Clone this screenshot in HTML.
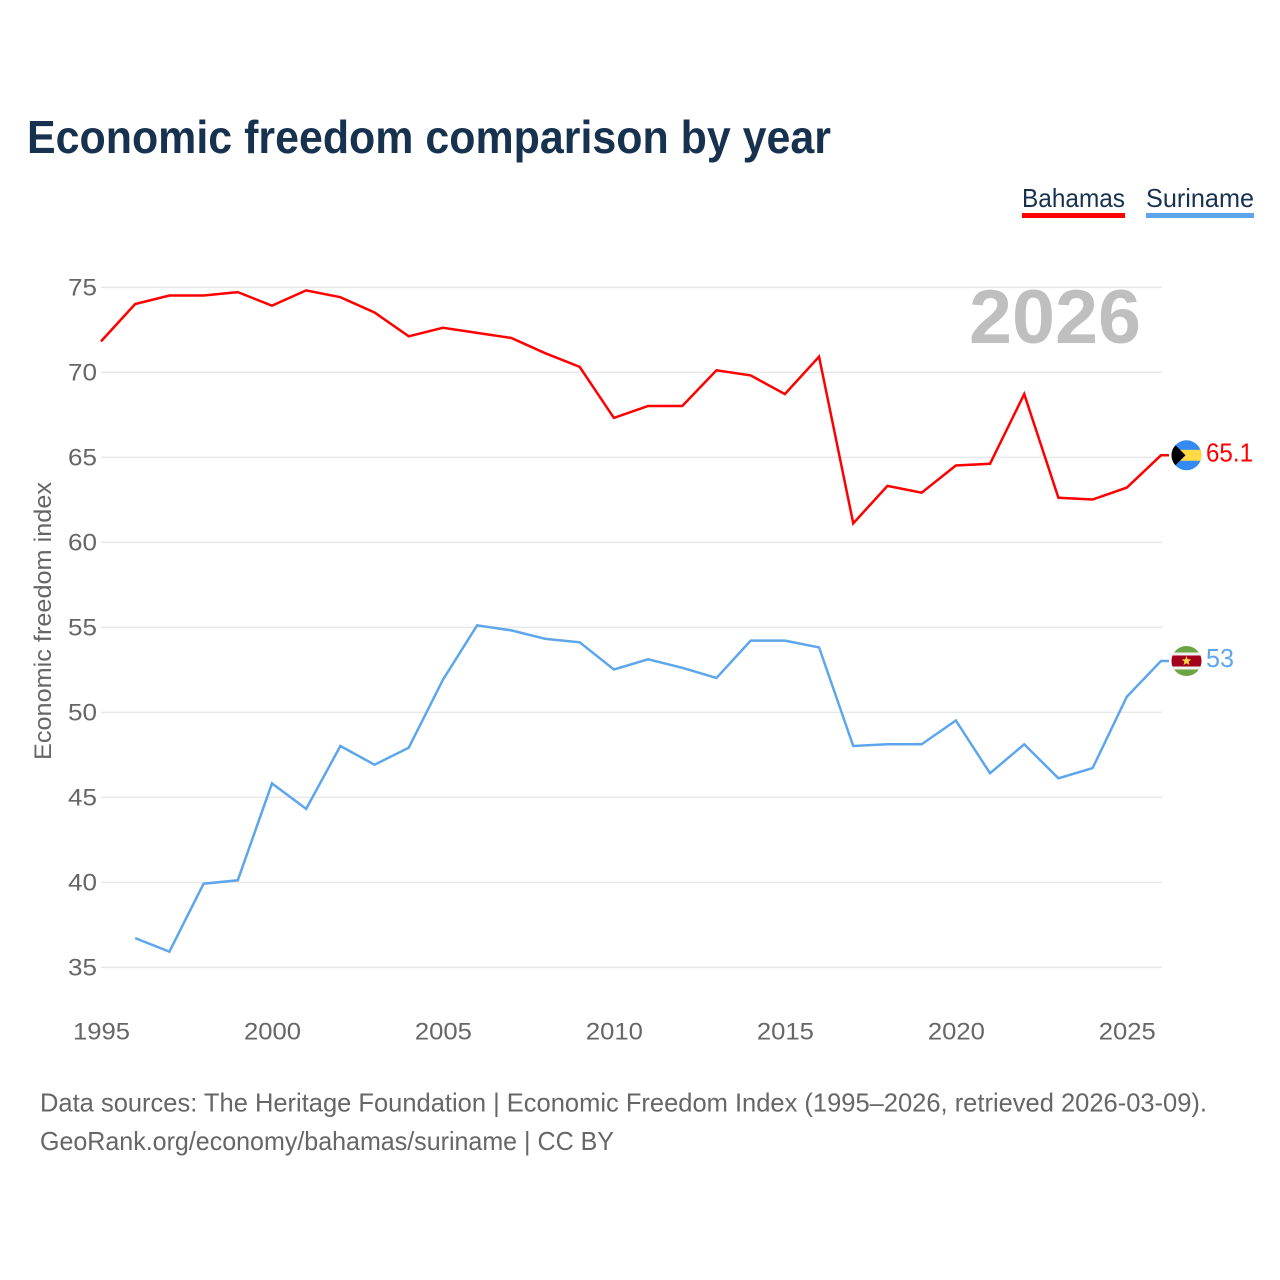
<!DOCTYPE html>
<html lang="en">
<head>
<meta charset="utf-8">
<title>Economic freedom comparison by year</title>
<style>
html,body{margin:0;padding:0;background:#fff;width:1280px;height:1280px;overflow:hidden}
svg{display:block;font-family:"Liberation Sans",sans-serif}
</style>
</head>
<body>
<svg id="chart" xmlns="http://www.w3.org/2000/svg" width="1280" height="1280" viewBox="0 0 1280 1280">
  <defs>
    <clipPath id="clip-a"><circle id="clip-a-c" r="15"/></clipPath>
    <clipPath id="clip-b"><circle id="clip-b-c" r="15"/></clipPath>
  </defs>
  <rect x="0" y="0" width="1280" height="1280" fill="#fff"/>
  <text x="27" y="153" font-size="46" font-weight="700" fill="#17324f" textLength="804" lengthAdjust="spacingAndGlyphs">Economic freedom comparison by year</text>
  <g id="grid"></g>
  <text x="969" y="343" font-size="76" font-weight="700" fill="#bfbfbf" textLength="172" lengthAdjust="spacingAndGlyphs">2026</text>
  <g id="yticks"></g>
  <g id="xticks"></g>
  <text transform="translate(51 621) rotate(-90)" text-anchor="middle" font-size="24.5" fill="#666" textLength="278" lengthAdjust="spacingAndGlyphs">Economic freedom index</text>
  <g id="series"></g>

  <g>
    <text x="1022" y="207" font-size="26" fill="#17324f" textLength="103" lengthAdjust="spacingAndGlyphs">Bahamas</text>
    <rect x="1022" y="213" width="103" height="5" fill="#ff0000"/>
  </g>
  <g>
    <text x="1146" y="207" font-size="26" fill="#17324f" textLength="108" lengthAdjust="spacingAndGlyphs">Suriname</text>
    <rect x="1146" y="213" width="108" height="5" fill="#5ea6ec"/>
  </g>

  <g id="flag-a"></g>
  <g id="flag-b"></g>
  <g id="end-labels"></g>

  <text x="40" y="1111.5" font-size="26" fill="#666" textLength="1167" lengthAdjust="spacingAndGlyphs">Data sources: The Heritage Foundation | Economic Freedom Index (1995–2026, retrieved 2026-03-09).</text>
  <text x="40" y="1150" font-size="26" fill="#666" textLength="574" lengthAdjust="spacingAndGlyphs">GeoRank.org/economy/bahamas/suriname | CC BY</text>
</svg>
<script>
const years = [1995,1996,1997,1998,1999,2000,2001,2002,2003,2004,2005,2006,2007,2008,2009,2010,2011,2012,2013,2014,2015,2016,2017,2018,2019,2020,2021,2022,2023,2024,2025,2026];
const bahamas = [71.8,74,74.5,74.5,74.7,73.9,74.8,74.4,73.5,72.1,72.6,72.3,72,71.1,70.3,67.3,68,68,70.1,69.8,68.7,70.9,61.1,63.3,62.9,64.5,64.6,68.7,62.6,62.5,63.2,65.1];
const suriname = [null,36.7,35.9,39.9,40.1,45.8,44.3,48,46.9,47.9,51.9,55.1,54.8,54.3,54.1,52.5,53.1,52.6,52,54.2,54.2,53.8,48,48.1,48.1,49.5,46.4,48.1,46.1,46.7,50.9,53];
const yTicks = [35,40,45,50,55,60,65,70,75];
const xTicks = [1995,2000,2005,2010,2015,2020,2025];

const NS = 'http://www.w3.org/2000/svg';
function xScale(year){ return 101 + (year - 1995) * (1060 / 31); }
function yScale(v){ return 967 - (v - 35) * 17; }
function make(tag, attrs, parent){
  const el = document.createElementNS(NS, tag);
  for (const k in attrs) el.setAttribute(k, attrs[k]);
  parent.appendChild(el);
  return el;
}

const gridG = document.getElementById('grid');
const yG = document.getElementById('yticks');
yTicks.forEach(function(t){
  const line = make('line', {x1:101, x2:1162, y1:yScale(t)+0.4, y2:yScale(t)+0.4, stroke:'#e8e8e8', 'stroke-width':1.5}, gridG);
  
  
  const label = make('text', {x:68, y:yScale(t)+8.5, 'font-size':24.5, fill:'#666', textLength:29, lengthAdjust:'spacingAndGlyphs'}, yG);
  
  
  label.textContent = t;
});

const xG = document.getElementById('xticks');
xTicks.forEach(function(t){
  const label = make('text', {x:xScale(t)-28, y:1039.5, 'font-size':24.5, fill:'#666', textLength:57, lengthAdjust:'spacingAndGlyphs'}, xG);
  
  
  label.textContent = t;
});

function pathFor(values){
  let d = '';
  values.forEach(function(v, i){
    if (v === null) return;
    d += (d ? 'L' : 'M') + xScale(years[i]).toFixed(2) + ' ' + yScale(v).toFixed(2);
  });
  const last = values[values.length-1];
  d += 'L' + (xScale(years[years.length-1]) + 8).toFixed(2) + ' ' + yScale(last).toFixed(2);
  return d;
}
const seriesG = document.getElementById('series');
const lineA = make('path', {d:pathFor(suriname), fill:'none', stroke:'#5ea6ec', 'stroke-width':2.5, 'stroke-linejoin':'miter'}, seriesG);


const lineB = make('path', {d:pathFor(bahamas), fill:'none', stroke:'#ff0000', 'stroke-width':2.5, 'stroke-linejoin':'miter'}, seriesG);



const cx = 1186.5;
const endA = bahamas[bahamas.length-1];
const endB = suriname[suriname.length-1];
const yA = yScale(endA);
const yB = yScale(endB);

document.getElementById('clip-a-c').setAttribute('cx', cx);
document.getElementById('clip-a-c').setAttribute('cy', yA);
document.getElementById('clip-b-c').setAttribute('cx', cx);
document.getElementById('clip-b-c').setAttribute('cy', yB);

const fa = document.getElementById('flag-a');
fa.setAttribute('clip-path', 'url(#clip-a)');
make('rect', {x:cx-16, y:yA-16, width:32, height:32, fill:'#338af3'}, fa);
make('rect', {x:cx-16, y:yA-5.5, width:32, height:11, fill:'#ffda44'}, fa);
make('path', {d:'M'+(cx-16)+' '+(yA-15)+'L'+(cx-1)+' '+yA+'L'+(cx-16)+' '+(yA+15)+'Z', fill:'#000'}, fa);

const fb = document.getElementById('flag-b');
fb.setAttribute('clip-path', 'url(#clip-b)');
make('rect', {x:cx-16, y:yB-16, width:32, height:32, fill:'#6da544'}, fb);
make('rect', {x:cx-16, y:yB-8.5, width:32, height:17, fill:'#f0f0f0'}, fb);
make('rect', {x:cx-16, y:yB-5.5, width:32, height:11, fill:'#a2001d'}, fb);
const starPts = [];
for (let i = 0; i < 10; i++){
  const r = i % 2 ? 2.1 : 5;
  const a = -Math.PI/2 + i*Math.PI/5;
  starPts.push((cx + r*Math.cos(a)).toFixed(2) + ',' + (yB + r*Math.sin(a)).toFixed(2));
}
make('polygon', {points:starPts.join(' '), fill:'#ffda44'}, fb);

const endG = document.getElementById('end-labels');
const la = make('text', {x:1206, y:yA+6, 'font-size':26, fill:'#ff0000', textLength:47, lengthAdjust:'spacingAndGlyphs'}, endG);


la.textContent = endA;
const lb = make('text', {x:1206, y:yB+6, 'font-size':26, fill:'#5ea6ec', textLength:28, lengthAdjust:'spacingAndGlyphs'}, endG);


lb.textContent = endB;
</script>
</body>
</html>
